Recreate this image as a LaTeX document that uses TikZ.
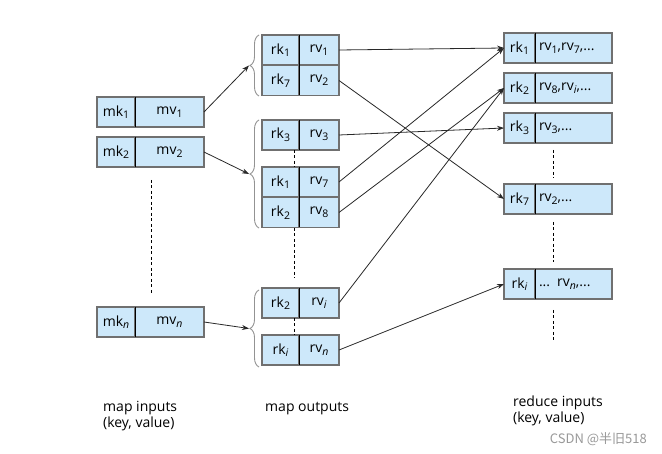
\documentclass[tikz,border=0pt]{standalone}
\usepackage{fontspec}
\setmainfont{Open Sans}
\newfontfamily\cjkwm{Noto Sans CJK SC}
\usetikzlibrary{arrows.meta,decorations.pathreplacing}
\definecolor{cellfill}{RGB}{205,232,250}
\definecolor{cellline}{RGB}{112,112,112}
\definecolor{connc}{RGB}{40,40,40}
\newcommand\sbx[1]{\raisebox{-0.35ex}{\fontsize{10.5}{10.5}\selectfont #1}}
\newcommand\rec[8]{%
  \node[cell, minimum width=#4, minimum height=30, anchor=north west] (#1-k) at (#2,#3) {#7};
  \node[cell, minimum width=#5, minimum height=30, anchor=north west] (#1-v) at (#1-k.north east) {#8};
  \draw[divider] (#1-k.north east) -- (#1-k.south east);
}
\newcommand\recl[8]{%
  \node[cell, minimum width=#4, minimum height=30, anchor=north west] (#1-k) at (#2,#3) {#7};
  \node[cell, text width=#5-8, align=left, minimum height=30, inner xsep=4, anchor=north west] (#1-v) at (#1-k.north east) {#8};
  \draw[divider] (#1-k.north east) -- (#1-k.south east);
}
\begin{document}
\begin{tikzpicture}[x=1pt,y=-1pt,
  every node/.style={font=\fontsize{14}{16}\selectfont},
  cell/.style={draw=cellline, fill=cellfill, line width=1.2pt, inner sep=0pt, outer sep=0pt},
  divider/.style={draw=black, line width=0.9pt},
  conn/.style={draw=connc, line width=0.8pt, -{Stealth[length=7pt,width=5pt]}},
  dsh/.style={draw=black, line width=0.9pt, dash pattern=on 3pt off 2.5pt},
  brc/.style={draw=gray!85, line width=0.9pt, decorate, decoration={brace, amplitude=9pt, aspect=0.5}},
  lbl/.style={anchor=west, align=left, inner sep=0pt, font=\fontsize{14}{16}\selectfont}]
\useasboundingbox[fill=white] (0,0) rectangle (662,454);

% map inputs
\rec{i1}{97}{97}{38}{69}{}{mk\sbx{1}}{mv\sbx{1}}
\rec{i2}{97}{137}{38}{69}{}{mk\sbx{2}}{mv\sbx{2}}
\rec{in}{97}{307}{38}{69}{}{mk\sbx{\textit{n}}}{mv\sbx{\textit{n}}}

% map outputs
\rec{o1}{262}{35}{37}{40}{}{rk\sbx{1}}{rv\sbx{1}}
\rec{o7}{262}{65.5}{37}{40}{}{rk\sbx{7}}{rv\sbx{2}}
\rec{o3}{262}{120}{37}{40}{}{rk\sbx{3}}{rv\sbx{3}}
\rec{o1b}{262}{167}{37}{40}{}{rk\sbx{1}}{rv\sbx{7}}
\rec{o2}{262}{197.5}{37}{40}{}{rk\sbx{2}}{rv\sbx{8}}
\rec{o2b}{262}{288}{37}{40}{}{rk\sbx{2}}{rv\sbx{\textit{i}}}
\rec{oi}{262}{335}{37}{40}{}{rk\sbx{\textit{i}}}{rv\sbx{\textit{n}}}

% reduce inputs
\recl{r1}{504}{33}{31}{77}{}{rk\sbx{1}}{rv\sbx{1},rv\sbx{7},...}
\recl{r2}{504}{73}{31}{77}{}{rk\sbx{2}}{rv\sbx{8},rv\sbx{\textit{i}},...}
\recl{r3}{504}{113}{31}{77}{}{rk\sbx{3}}{rv\sbx{3},...}
\recl{r7}{504}{184}{31}{77}{}{rk\sbx{7}}{rv\sbx{2},...}
\recl{ri}{504}{269}{31}{77}{}{rk\sbx{\textit{i}}}{... rv\sbx{\textit{n}},...}

% braces
\draw[brc] (259,96) -- (259,35);
\draw[brc] (259,228) -- (259,120);
\draw[brc] (259,367) -- (259,290);
\coordinate (t1) at (249,65.5);
\coordinate (t2) at (249,174);
\coordinate (t3) at (249,328.5);

% dashed lines
\draw[dsh] (151,180) -- (151,295);
\draw[dsh] (294,150) -- (294,167);
\draw[dsh] (294,228) -- (294,278);
\draw[dsh] (294,318) -- (294,335);
\draw[dsh] (553,150) -- (553,178);
\draw[dsh] (553,222) -- (553,262);
\draw[dsh] (553,310) -- (553,340);

% map input arrows
\draw[conn] (i1-v.east) -- (t1);
\draw[conn] (i2-v.east) -- (t2);
\draw[conn] (in-v.east) -- (t3);

% shuffle arrows
\draw[conn] (o1-v.east) -- (r1-k.west);
\draw[conn] (o7-v.east) -- (r7-k.west);
\draw[conn] (o3-v.east) -- (r3-k.west);
\draw[conn] (o1b-v.east) -- (r1-k.west);
\draw[conn] (o2-v.east) -- (r2-k.west);
\draw[conn] (o2b-v.east) -- (r2-k.west);
\draw[conn] (oi-v.east) -- (ri-k.west);

% labels
\node[lbl] (l1) at (103,416) {map inputs\\(key, value)};
\node[lbl] (l2) at (265,409) {map outputs};
\node[lbl] (l3) at (513,411) {reduce inputs\\(key, value)};
\node[anchor=east, inner sep=0pt, text=gray!80, font=\cjkwm\fontsize{13}{15}\selectfont] (wm) at (647,439) {CSDN @半旧518};
\end{tikzpicture}
\end{document}
